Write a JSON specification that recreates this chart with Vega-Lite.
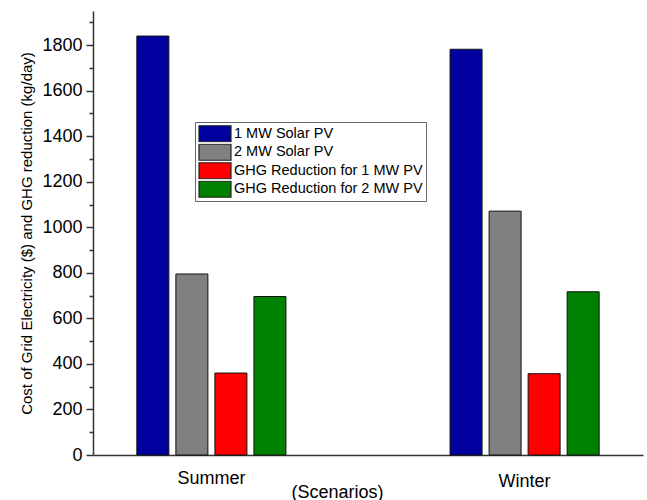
{
  "$schema": "https://vega.github.io/schema/vega-lite/v6.json",
  "width": 550,
  "height": 444,
  "autosize": {"type": "none"},
  "padding": {"left": 93, "top": 11, "right": 4, "bottom": 45},
  "background": "white",
  "config": {"view": {"stroke": null}, "font": "Liberation Sans"},
  "data": {
    "values": [
      {"Scenario": "Summer", "Series": "1 MW Solar PV", "value": 1840},
      {"Scenario": "Summer", "Series": "2 MW Solar PV", "value": 795},
      {"Scenario": "Summer", "Series": "GHG Reduction for 1 MW PV", "value": 360},
      {"Scenario": "Summer", "Series": "GHG Reduction for 2 MW PV", "value": 696},
      {"Scenario": "Winter", "Series": "1 MW Solar PV", "value": 1782},
      {"Scenario": "Winter", "Series": "2 MW Solar PV", "value": 1071},
      {"Scenario": "Winter", "Series": "GHG Reduction for 1 MW PV", "value": 357},
      {"Scenario": "Winter", "Series": "GHG Reduction for 2 MW PV", "value": 717}
    ]
  },
  "mark": {"type": "bar", "stroke": "#111111", "strokeWidth": 1},
  "encoding": {
    "x": {
      "field": "Scenario",
      "type": "nominal",
      "scale": {"paddingInner": 0.524, "paddingOuter": 0.14},
      "axis": {
        "title": "(Scenarios)",
        "titleFontSize": 18,
        "titleFontWeight": "normal",
        "titleColor": "#000000",
        "titleX": 244,
        "titleY": 28,
        "titleBaseline": "top",
        "labelAngle": 0,
        "labelFontSize": 18,
        "labelColor": "#000000",
        "labelPadding": {"condition": {"test": "datum.value === 'Winter'", "value": 17}, "value": 14},
        "ticks": false,
        "domainColor": "#333333",
        "domainWidth": 1.5
      }
    },
    "xOffset": {
      "field": "Series",
      "type": "nominal",
      "scale": {"paddingInner": 0.18, "paddingOuter": 0}
    },
    "y": {
      "field": "value",
      "type": "quantitative",
      "scale": {"domain": [0, 1950], "nice": false},
      "axis": {
        "title": "Cost of Grid Electricity ($) and GHG reduction (kg/day)",
        "titleFontSize": 15,
        "titleFontWeight": "normal",
        "titleColor": "#000000",
        "titlePadding": 7,
        "values": [0, 100, 200, 300, 400, 500, 600, 700, 800, 900, 1000, 1100, 1200, 1300, 1400, 1500, 1600, 1700, 1800, 1900],
        "labelExpr": "datum.value % 200 === 0 ? datum.label : ''",
        "format": "d",
        "labelFontSize": 18,
        "labelColor": "#000000",
        "labelPadding": 4,
        "tickSize": {"condition": {"test": "datum.value % 200 === 0", "value": 7}, "value": 4},
        "tickColor": "#333333",
        "tickWidth": 1.5,
        "domainColor": "#333333",
        "domainWidth": 1.5,
        "grid": false
      }
    },
    "color": {
      "field": "Series",
      "type": "nominal",
      "scale": {
        "domain": ["1 MW Solar PV", "2 MW Solar PV", "GHG Reduction for 1 MW PV", "GHG Reduction for 2 MW PV"],
        "range": ["#00009E", "#808080", "#FF0000", "#008000"]
      },
      "legend": {
        "title": null,
        "orient": "none",
        "legendX": 102,
        "legendY": 111,
        "symbolType": "M-2,-1H2V1H-2Z",
        "symbolSize": 256,
        "symbolOffset": 8,
        "symbolStrokeColor": "#222222",
        "symbolStrokeWidth": 1.2,
        "symbolOpacity": 1,
        "labelFontSize": 14.5,
        "labelColor": "#000000",
        "labelOffset": 10,
        "labelLimit": 400,
        "clipHeight": 17.5,
        "rowPadding": 0.5,
        "padding": 3,
        "strokeColor": "#666666",
        "fillColor": "white"
      }
    }
  }
}
